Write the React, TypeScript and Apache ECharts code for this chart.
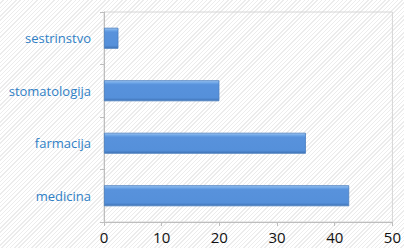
import React, { useEffect, useRef } from "react";
import * as echarts from "echarts";

const categories = ["medicina", "farmacija", "stomatologija", "sestrinstvo"];
const values = [42.5, 35, 20, 2.5];
const xTicks = [0, 10, 20, 30, 40, 50];

export default function App() {
  const ref = useRef<HTMLDivElement>(null);
  useEffect(() => {
    const chart = echarts.init(ref.current!, null, { renderer: "svg" });
    chart.setOption({
      animation: false,
      backgroundColor: "transparent",
      grid: {
        left: 104,
        right: 8,
        top: 12,
        bottom: 26,
        show: true,
        borderColor: "#d6d6d6",
        borderWidth: 1,
        backgroundColor: "transparent",
      },
      xAxis: {
        type: "value",
        min: xTicks[0],
        max: xTicks[xTicks.length - 1],
        interval: 10,
        axisLine: { show: true, lineStyle: { color: "#bdbdbd" } },
        axisTick: { show: true, length: 4, lineStyle: { color: "#bdbdbd" } },
        splitLine: { show: false },
        axisLabel: {
          color: "#111",
          fontFamily: "Open Sans",
          fontSize: 15,
          margin: 7,
        },
      },
      yAxis: {
        type: "category",
        data: categories,
        axisLine: { show: true, lineStyle: { color: "#bdbdbd" } },
        axisTick: { show: true, length: 4, alignWithLabel: false, lineStyle: { color: "#bdbdbd" } },
        axisLabel: {
          color: "#2f7fc6",
          fontFamily: "Open Sans",
          fontSize: 13,
          margin: 13,
        },
      },
      series: [
        {
          type: "bar",
          data: values,
          barWidth: 21,
          itemStyle: {
            color: new echarts.graphic.LinearGradient(0, 0, 0, 1, [
              { offset: 0, color: "#9cc4f0" },
              { offset: 0.12, color: "#6aa3e6" },
              { offset: 0.2, color: "#5892dc" },
              { offset: 0.85, color: "#5590da" },
              { offset: 1, color: "#3f72b4" },
            ]),
            borderColor: "#4a7fc0",
            borderWidth: 0.8,
          },
        },
      ],
    });
    return () => chart.dispose();
  }, []);
  return (
    <div
      ref={ref}
      style={{
        position: "fixed",
        left: 0,
        top: 0,
        width: 404,
        height: 248,
        background:
          "repeating-linear-gradient(-45deg, #ffffff 0px, #ffffff 2px, #ececec 2px, #ececec 3px)",
      }}
    />
  );
}
